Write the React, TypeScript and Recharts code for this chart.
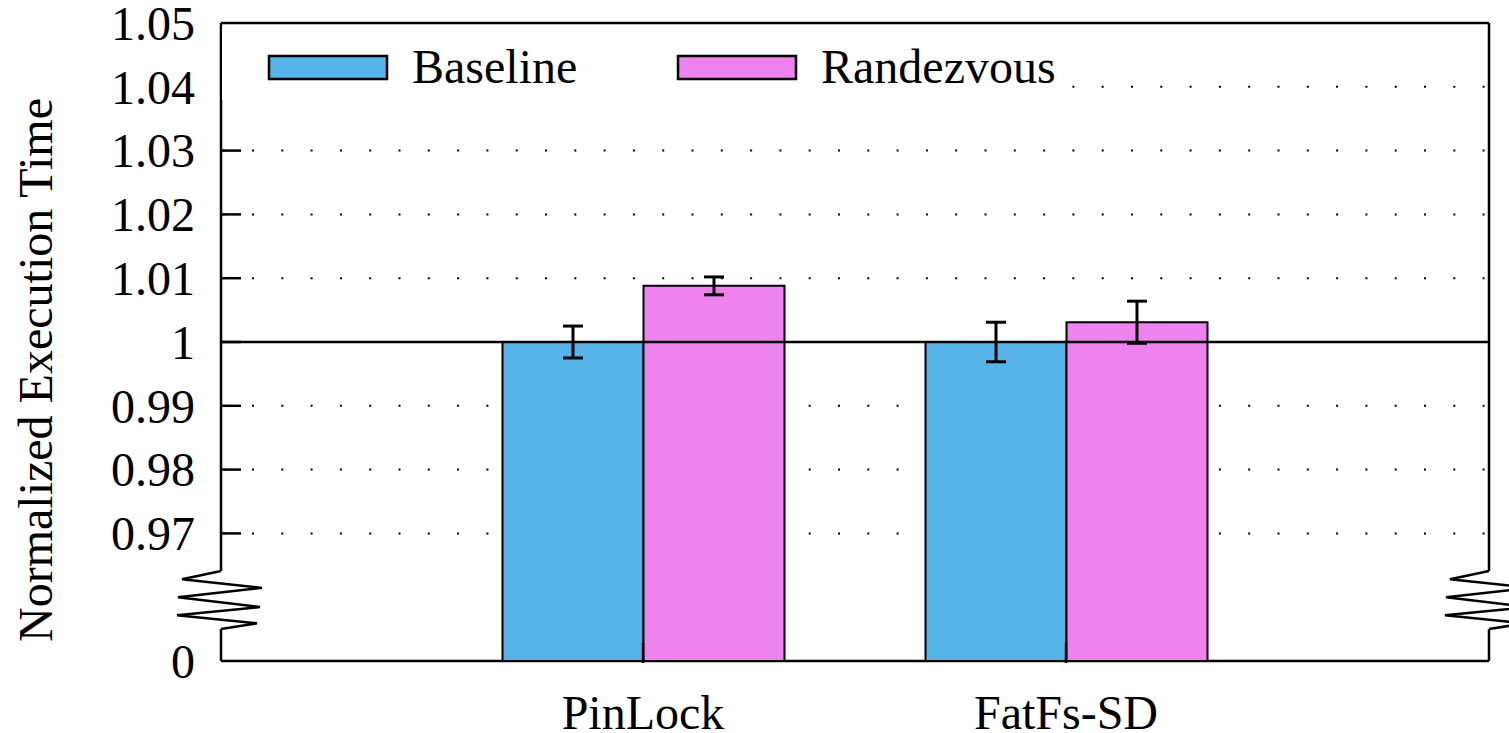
import React from 'react';
import { BarChart, Bar, XAxis, YAxis, CartesianGrid, ReferenceLine, ErrorBar, Legend, usePlotArea } from 'recharts';

const categories = ['PinLock', 'FatFs-SD'];
const baseline = [1.0, 1.0];
const baselineErr = [0.0025, 0.0031];
const randezvous = [1.0088, 1.0031];
const randezvousErr = [0.0014, 0.0033];

const yTicks = [0.95, 0.97, 0.98, 0.99, 1, 1.01, 1.02, 1.03, 1.04, 1.05];
const yTickLabels = ['0', '0.97', '0.98', '0.99', '1', '1.01', '1.02', '1.03', '1.04', '1.05'];

const data = categories.map((name, i) => ({
  name,
  baseline: baseline[i],
  baselineErr: baselineErr[i],
  randezvous: randezvous[i],
  randezvousErr: randezvousErr[i],
}));

const FONT = '"Liberation Serif", "Times New Roman", serif';
const BLUE = '#56B4E9';
const PINK = '#EE82EE';

const LeftTick = (props: any) => {
  const { x, y, payload } = props;
  const i = yTicks.indexOf(payload.value);
  const edge = i === 0 || i === yTicks.length - 1;
  return (
    <g>
      {!edge && <line x1={x} x2={x + 20} y1={y} y2={y} stroke="#000" strokeWidth={2.5} />}
      <text x={x - 26} y={y} dy="0.35em" textAnchor="end" fontFamily={FONT} fontSize={48} fill="#000">
        {yTickLabels[i]}
      </text>
    </g>
  );
};

const RightTick = (props: any) => {
  const { x, y, payload } = props;
  const i = yTicks.indexOf(payload.value);
  if (i === 0 || i === yTicks.length - 1) return <g />;
  return <line x1={x - 20} x2={x} y1={y} y2={y} stroke="#000" strokeWidth={2.5} />;
};

const BottomTick = (props: any) => {
  const { x, y, payload } = props;
  return (
    <g>
      <line x1={x} x2={x} y1={y} y2={y - 20} stroke="#000" strokeWidth={2.5} />
      <text x={x} y={y + 66} textAnchor="middle" fontFamily={FONT} fontSize={48} fill="#000">
        {payload.value}
      </text>
    </g>
  );
};

const TopTick = (props: any) => {
  const { x, y } = props;
  return <line x1={x} x2={x} y1={y} y2={y + 20} stroke="#000" strokeWidth={2.5} />;
};

// axis break sits between these fractions of the plot height (measured from the top)
const BREAK_TOP = 0.859;
const BREAK_BOTTOM = 0.95;

const zig = (x0: number, yt: number, yb: number) => {
  const h = yb - yt;
  const pts = [
    [0, 0], [-39, 0.14], [41, 0.29], [-43, 0.45], [39, 0.62], [-44, 0.76], [36, 0.9], [0, 1],
  ];
  return pts.map(([dx, f], k) => `${k === 0 ? 'M' : 'L'}${x0 + dx},${yt + f * h}`).join(' ');
};

const Frame = () => {
  const area = usePlotArea();
  if (!area) return null;
  const { x, y, width, height } = area;
  const l = x;
  const r = x + width;
  const t = y;
  const b = y + height;
  const bt = t + height * BREAK_TOP;
  const bb = t + height * BREAK_BOTTOM;
  const st = { stroke: '#000', strokeWidth: 2.5, fill: 'none' };
  return (
    <g>
      <line x1={l} x2={r} y1={t} y2={t} {...st} />
      <line x1={l} x2={r} y1={b} y2={b} {...st} />
      <line x1={l} x2={l} y1={t} y2={bt} {...st} />
      <line x1={l} x2={l} y1={bb} y2={b} {...st} />
      <line x1={r} x2={r} y1={t} y2={bt} {...st} />
      <line x1={r} x2={r} y1={bb} y2={b} {...st} />
      <path d={zig(l, bt, bb)} {...st} />
      <path d={zig(r, bt, bb)} {...st} />
    </g>
  );
};

const names: Record<string, string> = { baseline: 'Baseline', randezvous: 'Randezvous' };

const renderLegend = (props: any) => {
  const { payload } = props;
  const slots = [47, 456];
  return (
    <svg width={836} height={74} style={{ display: 'block' }}>
      {(payload || []).map((p: any, i: number) => (
        <g key={p.dataKey}>
          <rect x={slots[i]} y={30} width={118} height={23} fill={p.color} stroke="#000" strokeWidth={2.5} />
          <text x={slots[i] + 143} y={57} fontFamily={FONT} fontSize={48} fill="#000">
            {names[p.dataKey]}
          </text>
        </g>
      ))}
    </svg>
  );
};

export default function App() {
  return (
    <div style={{ position: 'absolute', left: 0, top: 0, background: '#fff' }}>
      <BarChart
        width={1509}
        height={733}
        data={data}
        margin={{ top: 23, right: 20, bottom: 0, left: 0 }}
        barGap={0}
      >
        <CartesianGrid
          vertical={false}
          stroke="#000"
          strokeWidth={2}
          strokeDasharray="2 27.3"
          strokeDashoffset={-1.7}
        />
        <XAxis
          dataKey="name"
          height={72}
          padding={{ left: 210.5, right: 211.5 }}
          axisLine={false}
          tickLine={false}
          tickSize={0}
          tick={<BottomTick />}
          interval={0}
        />
        <XAxis
          xAxisId="t"
          dataKey="name"
          orientation="top"
          height={0}
          padding={{ left: 210.5, right: 211.5 }}
          axisLine={false}
          tickLine={false}
          tickSize={0}
          tick={<TopTick />}
          interval={0}
        />
        <YAxis
          width={221}
          domain={[0.95, 1.05]}
          ticks={yTicks}
          allowDataOverflow
          axisLine={false}
          tickLine={false}
          tickSize={0}
          tickMargin={0}
          tick={<LeftTick />}
          interval={0}
          label={{
            content: () => (
              <text
                x={52}
                y={370}
                transform="rotate(-90, 52, 370)"
                textAnchor="middle"
                fontFamily={FONT}
                fontSize={48}
                fill="#000"
              >
                Normalized Execution Time
              </text>
            ),
          }}
        />
        <YAxis
          yAxisId="r"
          orientation="right"
          width={0}
          domain={[0.95, 1.05]}
          ticks={yTicks}
          allowDataOverflow
          axisLine={false}
          tickLine={false}
          tickSize={0}
          tickMargin={0}
          tick={<RightTick />}
          interval={0}
        />
        <Legend
          layout="vertical"
          align="center"
          verticalAlign="middle"
          content={renderLegend}
          wrapperStyle={{ left: 222, top: 26, width: 836, height: 74, background: '#fff' }}
        />
        <Bar dataKey="baseline" fill={BLUE} stroke="#000" strokeWidth={2} barSize={141} isAnimationActive={false}>
          <ErrorBar dataKey="baselineErr" width={10} strokeWidth={3} stroke="#000" direction="y" />
        </Bar>
        <Bar dataKey="randezvous" fill={PINK} stroke="#000" strokeWidth={2} barSize={141} isAnimationActive={false}>
          <ErrorBar dataKey="randezvousErr" width={10} strokeWidth={3} stroke="#000" direction="y" />
        </Bar>
        <ReferenceLine y={1} stroke="#000" strokeWidth={2.5} />
        <Frame />
      </BarChart>
    </div>
  );
}
